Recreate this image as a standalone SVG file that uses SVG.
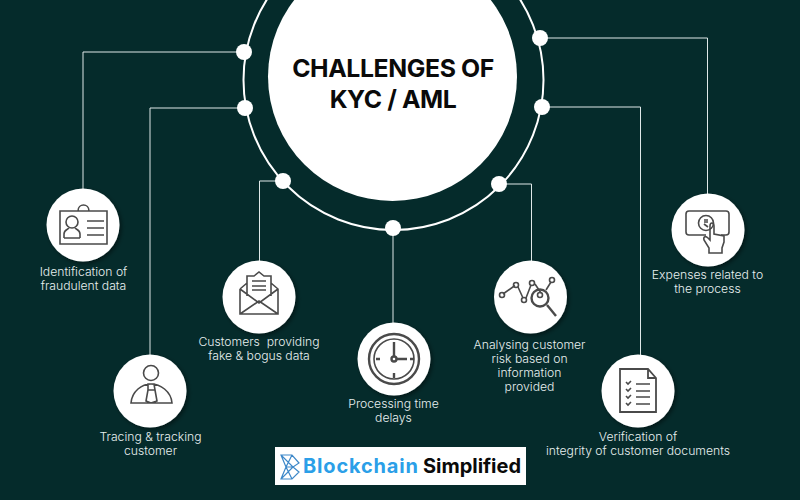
<svg xmlns="http://www.w3.org/2000/svg" width="800" height="500" viewBox="0 0 800 500">
<defs>
<filter id="sh" x="-20%" y="-20%" width="150%" height="150%"><feDropShadow dx="2" dy="2" stdDeviation="2" flood-color="#000" flood-opacity="0.45"/></filter>
</defs>
<style>
.bg{fill:#052b2b}
.conn{fill:none;stroke:#dfe8e8;stroke-width:1}
.ring{fill:none;stroke:#fff;stroke-width:2}
.dot{fill:#fff}
.disc{fill:#fff;filter:url(#sh)}
.ic{fill:none;stroke:#4a4a4a;stroke-width:1.6}
.ict{fill:none;stroke:#4a4a4a;stroke-width:2.4}
.lab{font-family:Inter,"Open Sans","Liberation Sans",sans-serif;font-size:12.200px;font-weight:300;fill:#e8f0f0;text-anchor:middle}
.ttl{font-family:Inter,"Liberation Sans",sans-serif;font-size:24.800px;font-weight:700;fill:#0a0a0a;text-anchor:middle;letter-spacing:-.4px}
.lg{font-family:Inter,"Liberation Sans",sans-serif;font-size:20px;font-weight:700}
</style>
<rect class="bg" width="800" height="500"/>
<g id="connectors">
<path class="conn" d="M244 52H83V190"/>
<path class="conn" d="M245 108H150V356"/>
<path class="conn" d="M283 181H259.500V262"/>
<path class="conn" d="M393 228V324"/>
<path class="conn" d="M499 184H531.500V262"/>
<path class="conn" d="M540 38H707.500V195"/>
<path class="conn" d="M542 107H640.500V356"/>
</g>
<g id="hub">
<circle class="ring" cx="393.500" cy="80" r="150"/>
<circle class="dot" cx="392.500" cy="76.500" r="124.500"/>
<circle class="dot" cx="244" cy="52" r="8"/>
<circle class="dot" cx="245" cy="108" r="8"/>
<circle class="dot" cx="283" cy="181" r="8"/>
<circle class="dot" cx="393" cy="228" r="8"/>
<circle class="dot" cx="499" cy="184" r="8"/>
<circle class="dot" cx="540" cy="38" r="8"/>
<circle class="dot" cx="542" cy="107" r="8"/>
<text class="ttl" x="393" y="77">CHALLENGES OF</text>
<text class="ttl" x="393" y="108">KYC / AML</text>
</g>
<g id="n1">
<circle class="disc" cx="83" cy="225" r="36.500"/>
<path class="ic" d="M60 211H107V244H60Z M78 211C78 203 89 203 89 211"/>
<circle class="ic" cx="72" cy="222" r="6"/>
<path class="ic" d="M64 238V234C64 230 67 230 69 228M80 238V234C80 230 77 230 75 228M64 238H80M87 221H104M87 228H104M87 235H104"/>
<text class="lab" x="83.500" y="276">Identification of</text>
<text class="lab" x="83.500" y="290">fraudulent data</text>
</g>
<g id="n2">
<circle class="disc" cx="150" cy="391" r="36.500"/>
<circle class="ic" cx="151" cy="373" r="7.500"/>
<path class="ic" d="M131 403C132 391 142 384 151 384C160 384 171 391 172 403ZM148 384H154L155 390L157 401L151 403L146 401L148 390ZM148 390H155"/>
<text class="lab" x="150.500" y="441">Tracing &amp; tracking</text>
<text class="lab" x="150.500" y="455">customer</text>
</g>
<g id="n3">
<circle class="disc" cx="259" cy="297" r="36.500"/>
<path class="ic" d="M240 289V314H278V289L271 283M240 289L247 283M240 314L259 301L278 314M240 289L259 303L278 289M247 296V276H254L259 272L264 276H271V296M252 281H266M252 286H266M252 290H266"/>
<text class="lab" x="259" y="346">Customers&#160; providing</text>
<text class="lab" x="259" y="360">fake &amp; bogus data</text>
</g>
<g id="n4">
<circle class="disc" cx="394" cy="359" r="36.500"/>
<circle class="ict" cx="394" cy="359" r="25"/>
<circle class="ic" cx="394" cy="359" r="20"/>
<circle class="ict" cx="394" cy="359" r="2.500"/>
<path class="ict" d="M394 356V342M397 359H407M376 359H380M394 373V378M410 359H414"/>
<text class="lab" x="393.500" y="408">Processing time</text>
<text class="lab" x="393.500" y="422">delays</text>
</g>
<g id="n5">
<circle class="disc" cx="530.500" cy="297" r="36.500"/>
<path class="ic" d="M503 294L515 285.500M518 287L523 298M526 298L531 285M535 284L541 293M546 290L551 282"/>
<circle class="ic" cx="502" cy="295" r="2.500"/><circle class="ic" cx="516" cy="285" r="2.500"/><circle class="ic" cx="524" cy="300" r="2.500"/><circle class="ic" cx="532" cy="283" r="2.500"/><circle class="ic" cx="552" cy="280" r="2.500"/><circle class="ic" cx="540" cy="295" r="2.500"/>
<circle class="ict" cx="540" cy="298" r="8.500"/>
<path class="ict" d="M547 305L556 316"/>
<text class="lab" x="529.500" y="349">Analysing customer</text>
<text class="lab" x="529.500" y="363">risk based on</text>
<text class="lab" x="529.500" y="377">information</text>
<text class="lab" x="529.500" y="391">provided</text>
</g>
<g id="n6">
<circle class="disc" cx="708" cy="230" r="36.500"/>
<path class="ic" d="M706 235H689Q686 235 686 232V214Q686 211 689 211H726Q729 211 729 214V232Q729 235 726 235H721"/>
<circle class="ic" cx="706" cy="223" r="7.500"/>
<path class="ic" d="M704 220H708M704 222H708M704 224L708 227M710 226V240L708 238C706 236 703 236 704 240L709 248V253H722V248L724 242V236L714 234V226C714 222 710 222 710 226Z"/>
<text class="lab" x="707.500" y="279">Expenses related to</text>
<text class="lab" x="707.500" y="293">the process</text>
</g>
<g id="n7">
<circle class="disc" cx="638" cy="391" r="36.500"/>
<path class="ict" d="M620 369H648L656 378V412H620ZM648 369V378H656" style="stroke-width:1.800"/>
<path class="ic" d="M626 382L628 384L631 381M626 389L628 391L631 388M626 396L628 398L631 395M626 403L628 405L631 402M636 384H650M636 391H650M636 397H650M636 404H650"/>
<text class="lab" x="638" y="441">Verification of</text>
<text class="lab" x="638" y="455">integrity of customer documents</text>
</g>
<g id="logo">
<rect x="275" y="447" width="251" height="38" fill="#fff"/>
<path d="M281 455H292L299 463L293 467L299 472L292 479H281L286 467ZM286 467H293M281 455L293 467L281 479M292 455L286 467L292 479" fill="none" stroke="#3d88c9" stroke-width="1.200"/>
<text class="lg" x="303" y="473" fill="#2b9fe8" textLength="115">Blockchain</text>
<text class="lg" x="423" y="473" fill="#0a0a0a" textLength="98">Simplified</text>
</g>
</svg>
